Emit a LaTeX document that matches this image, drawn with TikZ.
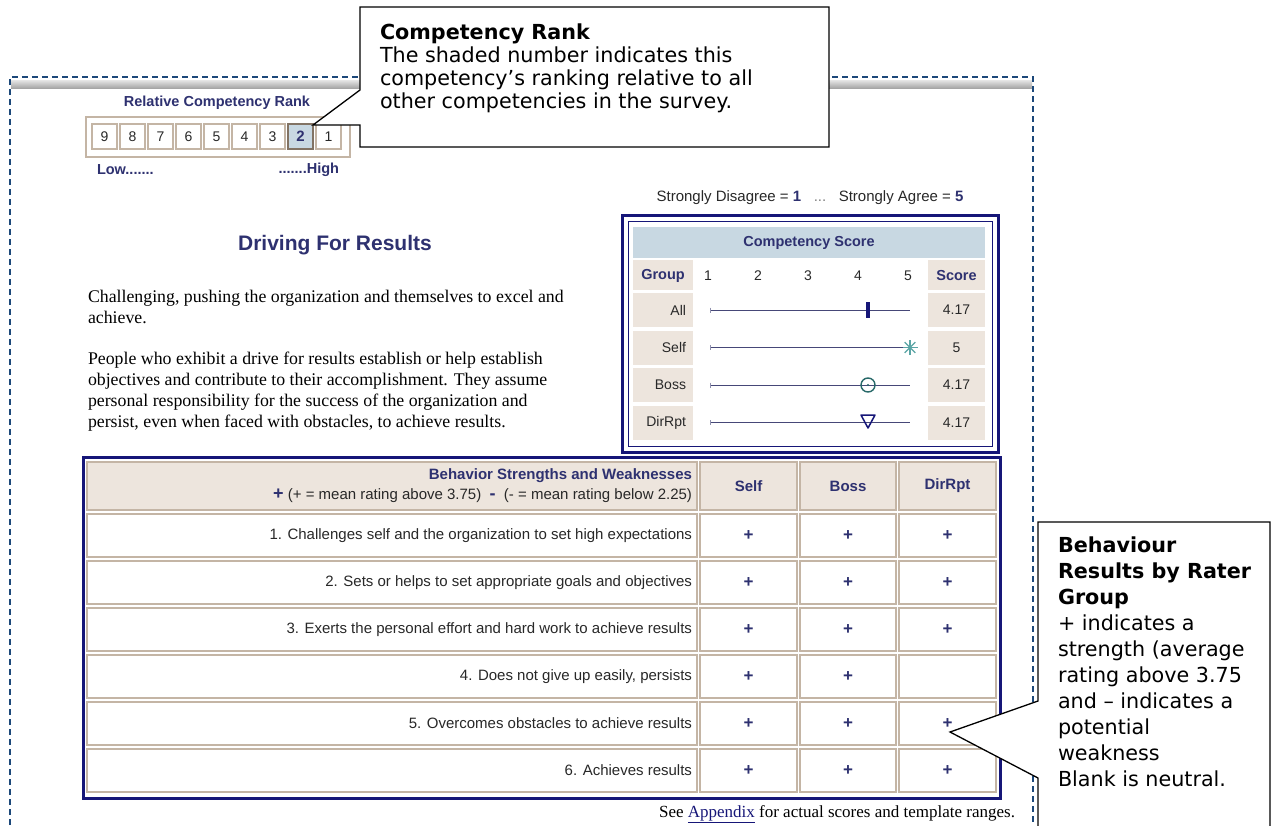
\documentclass[tikz,border=0pt]{standalone}
\usepackage{fontspec}
\setmainfont{Liberation Serif}
\newfontfamily\arialf{Liberation Sans}
\newfontfamily\verdf{DejaVu Sans}
\usetikzlibrary{shapes.geometric}
\definecolor{navytxt}{RGB}{46,49,112}
\definecolor{navyb}{RGB}{22,22,120}
\definecolor{tanfill}{RGB}{237,229,221}
\definecolor{tanline}{RGB}{196,181,165}
\definecolor{headblue}{RGB}{200,216,226}
\definecolor{dashblue}{RGB}{28,72,122}
\definecolor{txtgray}{RGB}{40,40,40}
\definecolor{scaleline}{RGB}{70,72,120}
\definecolor{teal1}{RGB}{90,165,165}
\definecolor{teal2}{RGB}{40,105,105}
\tikzset{
  every node/.style={inner sep=0pt, outer sep=0pt},
  navylbl/.style={font=\arialf\bfseries\fontsize{14.5}{16}\selectfont, text=navytxt},
  rankcell/.style={draw=tanline, line width=1.2pt, fill=white, minimum width=25pt, minimum height=25pt, font=\arialf\fontsize{14}{16}\selectfont, text=txtgray},
  para/.style={anchor=base west, font=\fontsize{17.8}{21}\selectfont, text=black},
  csfill/.style={fill=tanfill},
  cslbl/.style={font=\arialf\fontsize{14}{16}\selectfont, text=txtgray},
  tcell/.style={draw=tanline, line width=1.5pt},
  rowtxt/.style={anchor=east, font=\arialf\fontsize{15}{17}\selectfont, text=txtgray},
  plus/.style={font=\arialf\bfseries\fontsize{17}{18}\selectfont, text=navytxt},
  callout/.style={draw=black, line width=1.3pt, fill=white},
  cotxt/.style={anchor=base west, font=\verdf\fontsize{20.7}{23}\selectfont, text=black},
  cottl/.style={anchor=base west, font=\verdf\bfseries\fontsize{20.7}{23}\selectfont, text=black}
}
\begin{document}
\begin{tikzpicture}[x=1pt,y=-1pt]
\useasboundingbox[fill=white] (0,0) rectangle (1277,825);
% page frame
\shade[top color=gray!20, bottom color=gray!70] (11,80) rectangle (1032,88);
\draw[dashblue, line width=1.6pt, dash pattern=on 6pt off 4pt] (10,825) -- (10,77) -- (1033,77) -- (1033,825);

% relative competency rank
\node[navylbl] (rankt) at (217,103) {Relative Competency Rank};
\draw[tanline, line width=1.2pt] (86,117) rectangle (350,157);
\foreach \i/\n in {0/9,1/8,2/7,3/6,4/5,5/4,6/3,8/1}{
  \node[rankcell] (r\n) at ({104.5+28*\i},136.5) {\n};
}
\node[rankcell, fill=headblue, draw={rgb,255:red,130;green,115;blue,100}, line width=1.8pt, font=\arialf\bfseries\fontsize{15}{16}\selectfont, text=navytxt] (r2) at (300.5,136.5) {2};
\node[navylbl, anchor=west] (low) at (97,170) {Low.......};
\node[navylbl, anchor=east] (high) at (339,170) {.......High};

% title and description
\node[font=\arialf\bfseries\fontsize{21}{23}\selectfont, text=navytxt] (title) at (335,245) {Driving For Results};
\node[para] (p1) at (88,302) {Challenging, pushing the organization and themselves to excel and};
\node[para] (p2) at (88,323) {achieve.};
\node[para] (p3) at (88,364) {People who exhibit a drive for results establish or help establish};
\node[para] (p4) at (88,385) {objectives and contribute to their accomplishment. They assume};
\node[para] (p5) at (88,406) {personal responsibility for the success of the organization and};
\node[para] (p6) at (88,427) {persist, even when faced with obstacles, to achieve results.};

% scale legend
\node[font=\arialf\fontsize{15}{17}\selectfont, text=txtgray] (legend) at (810,198) {Strongly Disagree = {\bfseries\color{navytxt}1}\ \ \ {\color{gray}...}\ \ \ Strongly Agree = {\bfseries\color{navytxt}5}};

% competency score box
\draw[navyb, line width=3pt] (622,215) rectangle (998,452);
\draw[navyb, line width=0.9pt] (628,221) rectangle (992,446);
\fill[headblue] (633,227) rectangle (985,258);
\node[navylbl] (cst) at (809,242.5) {Competency Score};
\fill[csfill] (633,260) rectangle (693,290);
\fill[csfill] (928,260) rectangle (985,290);
\node[navylbl] (grp) at (663,275.5) {Group};
\node[navylbl] (scr) at (956.5,275.5) {Score};
\foreach \v in {1,...,5}{
  \node[cslbl] (n\v) at ({708+50*(\v-1)},275.5) {\v};
}
\foreach \y/\g/\s [count=\k] in {310/All/4.17, 347.5/Self/5, 385/Boss/4.17, 422.5/DirRpt/4.17}{
  \fill[csfill] (633,\y-17) rectangle (693,\y+17);
  \fill[csfill] (928,\y-17) rectangle (985,\y+17);
  \node[cslbl, anchor=east] (g\k) at (686,\y) {\g};
  \node[cslbl] (s\k) at (956.5,\y) {\s};
  \draw[scaleline, line width=1pt] (710,\y) -- (910,\y);
  \draw[scaleline!60, line width=0.6pt] (710,\y-2.5) -- (710,\y+2.5);
}
% markers
\fill[navyb] (865.5,302) rectangle (869.5,318);
\foreach \a in {0,45,90,135}{
  \draw[teal1, line width=1.3pt] (910,347.5) ++(\a:7.5) -- ++(\a+180:15);
}
\draw[teal2, line width=1.4pt] (868,385) circle (7);
\fill[teal2] (868,385) circle (1.2);
\draw[navyb, line width=1.5pt, line join=round] (861,415) -- (875,415) -- (868,428) -- cycle;

% behaviour table
\draw[navyb, line width=3pt] (83.5,457.5) rectangle (1000,798);
\foreach \xa/\xb in {87/697, 700/797, 800/896, 899/996}{
  \draw[tcell, fill=tanfill] (\xa,462) rectangle (\xb,510);
  \foreach \k in {1,...,6}{
    \draw[tcell, fill=white] (\xa,{514+47*(\k-1)}) rectangle (\xb,{557+47*(\k-1)});
  }
}
\node[navylbl, anchor=east, font=\arialf\bfseries\fontsize{15}{17}\selectfont] (bsw) at (692,476) {Behavior Strengths and Weaknesses};
\node[anchor=east, font=\arialf\fontsize{15}{17}\selectfont, text=txtgray] (bsw2) at (692,496) {{\bfseries\color{navytxt}\fontsize{18}{18}\selectfont +} (+ = mean rating above 3.75)\ \ {\bfseries\color{navytxt}\fontsize{18}{18}\selectfont -}\ \ (- = mean rating below 2.25)};
\node[navylbl, font=\arialf\bfseries\fontsize{15}{17}\selectfont] (hself) at (748.5,486) {Self};
\node[navylbl, font=\arialf\bfseries\fontsize{15}{17}\selectfont] (hboss) at (848,486) {Boss};
\node[navylbl, font=\arialf\bfseries\fontsize{15}{17}\selectfont] (hdir) at (947.5,486) {DirRpt};
\node[rowtxt] (row1) at (692,535.5) {1. Challenges self and the organization to set high expectations};
\node[rowtxt] (row2) at (692,582.5) {2. Sets or helps to set appropriate goals and objectives};
\node[rowtxt] (row3) at (692,629.5) {3. Exerts the personal effort and hard work to achieve results};
\node[rowtxt] (row4) at (692,676.5) {4. Does not give up easily, persists};
\node[rowtxt] (row5) at (692,723.5) {5. Overcomes obstacles to achieve results};
\node[rowtxt] (row6) at (692,770.5) {6. Achieves results};
\foreach \k in {1,...,6}{
  \node[plus] (ps\k) at (748.5,{535.5+47*(\k-1)}) {+};
  \node[plus] (pb\k) at (848,{535.5+47*(\k-1)}) {+};
}
\foreach \k in {1,2,3,5,6}{
  \node[plus] (pd\k) at (947.5,{535.5+47*(\k-1)}) {+};
}
\node[anchor=base east, font=\fontsize{17}{19}\selectfont] (see) at (1015,817) {See \textcolor{navyb}{\underline{Appendix}} for actual scores and template ranges.};

% callout 1
\draw[callout] (360,7) -- (829,7) -- (829,147) -- (360,147) -- (360,125) -- (313,125) -- (360,90) -- cycle;
\node[cottl] (c1a) at (380,39) {Competency Rank};
\node[cotxt] (c1b) at (380,62) {The shaded number indicates this};
\node[cotxt] (c1c) at (380,85) {competency’s ranking relative to all};
\node[cotxt] (c1d) at (380,108) {other competencies in the survey.};

% callout 2
\draw[callout] (1038,830) -- (1038,778) -- (950,732) -- (1038,701) -- (1038,522) -- (1270,522) -- (1270,830);
\node[cottl] (c2a) at (1058,552) {Behaviour};
\node[cottl] (c2b) at (1058,578) {Results by Rater};
\node[cottl] (c2c) at (1058,604) {Group};
\node[cotxt] (c2d) at (1058,630) {+ indicates a};
\node[cotxt] (c2e) at (1058,656) {strength (average};
\node[cotxt] (c2f) at (1058,682) {rating above 3.75};
\node[cotxt] (c2g) at (1058,708) {and – indicates a};
\node[cotxt] (c2h) at (1058,734) {potential};
\node[cotxt] (c2i) at (1058,760) {weakness};
\node[cotxt] (c2j) at (1058,786) {Blank is neutral.};
\end{tikzpicture}
\end{document}
